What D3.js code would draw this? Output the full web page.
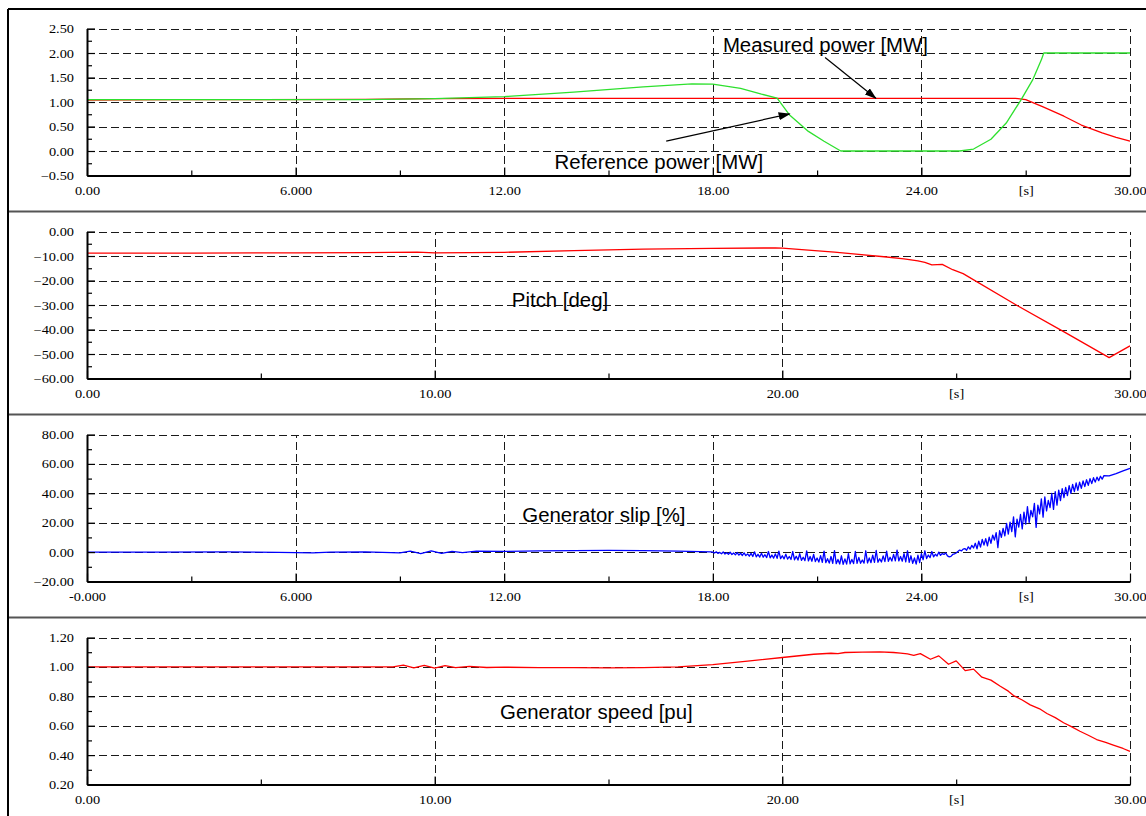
<!DOCTYPE html>
<html>
<head>
<meta charset="utf-8">
<script src="https://cdn.jsdelivr.net/npm/d3@7"></script>
<style>
  body { margin: 0; background: #fff; }
  svg { display: block; }
</style>
</head>
<body>
<div id="chart"></div>
<script>
// ---- data, [time s, value] ----

// measured power [MW] (red)
const measuredPower = [
  [0, 1.04], [2.5, 1.05], [5, 1.05], [8, 1.055], [10, 1.07], [13, 1.075], [20, 1.075],
  [26.7, 1.075], [27.0, 1.05], [27.5, 0.9], [28.1, 0.71], [28.6, 0.53], [29.2, 0.37], [29.6, 0.28], [30, 0.2]
];

// reference power [MW] (green)
const referencePower = [
  [0, 1.05], [8, 1.05], [10, 1.07], [12, 1.11], [14, 1.2], [16, 1.31], [17.4, 1.37], [18, 1.365],
  [18.8, 1.28], [19.4, 1.16], [19.85, 1.08], [20.2, 0.74], [20.75, 0.4], [21.2, 0.2], [21.68, 0],
  [25.1, 0], [25.5, 0.04], [26.0, 0.24], [26.44, 0.57], [26.87, 1.05], [27.2, 1.45], [27.45, 1.86],
  [27.52, 2.0], [30, 2.0]
];

// pitch [deg]
const pitch = [
  [0, -8.8], [3, -8.8], [6, -8.7], [8, -8.6], [9.5, -8.4], [10, -8.7], [12, -8.5], [14, -7.8],
  [16, -7.2], [18, -6.9], [19.8, -6.7], [20, -6.8], [21.5, -8.4], [23.0, -10.4], [23.5, -11.2],
  [23.9, -12.0], [24.1, -12.6], [24.3, -13.6], [24.6, -13.4], [24.9, -15.6], [25.2, -17.2],
  [26.74, -30.1], [28.18, -41.6], [29.4, -51.5], [30, -46.7]
];

// generator slip [%], quiet start
const slipStart = [
  [0, 0], [2, 0], [4, 0.1], [5.5, -0.2], [6.5, -0.5], [7, 0], [8, 0.2], [9, -0.5], [9.3, 0.6],
  [9.6, -1.0], [9.9, 0.8], [10.2, -0.8], [10.5, 0.5], [10.8, -0.3], [11.2, 0.6], [12, 0.5],
  [13, 0.8], [14, 1.0], [15, 1.2], [16, 1.0], [17, 0.6], [17.95, 0.1]
];
// generator slip [%], noisy part sampled every 0.05 s from 18.00 s
const slipNoiseStart = 18.0;
const slipNoiseStep = 0.05;
const slipNoise = [
  0, -0.6, 0.2, -0.9, -0.2, -1.1, 0.1, -1.3, -0.4, -1.5, -0.1, -1.7, -0.6, -1.9, -0.3, -2.1, -0.8, -2.3, -0.5, -2.4,
  -1.2, -2.8, -0.9, -3.0, 0.2, -3.2, -1.5, -3.4, -0.8, -3.5, -1.8, -3.7, 0.4, -3.9, -2.0, -4.1, -1.2, -4.2, 0.6, -4.4,
  -2.5, -4.6, -1.4, -4.8, -3.0, -5.0, 0.4, -5.2, -2.8, -5.4, -1.1, -5.6, -3.5, -5.8, 0.8, -6.0, -3.0, -6.2, -1.6, -6.4,
  -4.0, -6.8, -2.4, -7.0, 0.6, -7.2, -4.5, -7.5, -3.0, -7.7, 1.0, -7.9, -5.0, -8.1, -2.5, -8.3, -4.6, -8.2, -1.0, -8.0,
  -5.0, -7.8, 0.4, -7.7, -3.6, -7.6, -5.4, -7.5, 0.9, -7.4, -4.0, -7.2, -2.0, -7.0, 1.1, -6.9, -4.5, -6.7, -2.6, -6.5,
  0.7, -6.3, -3.5, -6.1, -1.5, -6.0, 1.4, -6.0, -3.0, -6.2, -1.0, -6.6, 0.9, -7.0, -2.5, -7.6, -4.0, -8.2, -2.0, -7.2,
  -1.0, -5.2, 0.9, -4.4, -2.0, -3.8, 0.4, -3.2, -1.5, -2.7, 0.0, -2.2, -1.0, -1.6, -0.6, -2.6, -3.2, -2.9, -1.6, -1.2,
  -0.6, 0.4, 1.4, 0.8, 2.0, 2.4, 1.2, 3.6, 2.0, 4.6, 2.8, 6.0, 2.2, 7.4, 3.4, 8.6, 4.8, 9.2, 4.2, 10.2,
  6.0, 11.6, 8.2, 13.2, 3.0, 14.6, 10.0, 16.2, 11.0, 19.6, 12.2, 20.4, 14.0, 24.0, 10.4, 22.4, 17.0, 25.6, 15.8, 27.2,
  19.0, 31.0, 20.2, 28.4, 24.0, 33.2, 16.8, 32.0, 26.0, 36.2, 23.8, 37.6, 28.0, 35.2, 30.2, 40.0, 29.0, 41.2, 32.0, 42.2,
  35.0, 43.2, 37.0, 44.0, 38.4, 45.2, 40.0, 46.0, 41.2, 47.0, 42.0, 47.6, 43.4, 48.4, 44.6, 49.2, 45.4, 50.0, 46.6, 50.6,
  47.6, 51.0, 48.6, 51.6, 49.6, 52.0
];
// generator slip [%], smooth end
const slipEnd = [[29.4, 51.8], [29.6, 53.4], [29.8, 55.2], [30, 57.0]];

// generator speed [pu]
const speed = [
  [0, 1.0], [8.8, 1.0], [9.1, 1.012], [9.4, 0.993], [9.7, 1.011], [10.0, 0.992], [10.3, 1.008],
  [10.6, 0.995], [11, 1.003], [11.5, 0.996], [12, 0.998], [13, 0.995], [14, 0.995], [15, 0.993],
  [16, 0.995], [17, 1.0], [18, 1.016], [19, 1.039], [20, 1.064], [20.9, 1.086], [21.4, 1.093],
  [21.6, 1.09], [21.8, 1.098], [22.3, 1.1], [22.8, 1.102], [23.2, 1.098], [23.4, 1.094], [23.6, 1.088],
  [23.78, 1.078], [23.97, 1.09], [24.26, 1.052], [24.5, 1.075], [24.78, 1.018], [25.0, 1.041],
  [25.26, 0.975], [25.5, 0.985], [25.74, 0.93], [26.0, 0.91], [26.27, 0.868], [26.5, 0.835],
  [26.65, 0.805], [26.9, 0.775], [27.13, 0.742], [27.4, 0.715], [27.61, 0.683], [27.85, 0.655],
  [28.09, 0.62], [28.3, 0.595], [28.56, 0.562], [28.8, 0.535], [29.04, 0.506], [29.3, 0.487],
  [29.52, 0.468], [29.8, 0.445], [30, 0.425]
];

// ---- ticks and labels ----
const timeDomain = [0, 30];
const xTicks6 = [0, 6, 12, 18, 24, 30];
const xMinor6 = [3, 9, 15, 21, 27];
const xLabels6 = ["0.00", "6.000", "12.00", "18.00", "24.00", "30.00"];
const xLabelsSlip = ["-0.000", "6.000", "12.00", "18.00", "24.00", "30.00"];
const xTicks10 = [0, 10, 20, 30];
const xMinor10 = [5, 15, 25];
const xLabels10 = ["0.00", "10.00", "20.00", "30.00"];
const unitLabel = "[s]";

const powerTicks = [-0.5, 0, 0.5, 1, 1.5, 2, 2.5];
const powerMinor = [-0.25, 0.25, 0.75, 1.25, 1.75, 2.25];
const pitchTicks = [-60, -50, -40, -30, -20, -10, 0];
const pitchMinor = [-55, -45, -35, -25, -15, -5];
const slipTicks = [-20, 0, 20, 40, 60, 80];
const slipMinor = [-10, 10, 30, 50, 70];
const speedTicks = [0.2, 0.4, 0.6, 0.8, 1.0, 1.2];
const speedMinor = [0.3, 0.5, 0.7, 0.9, 1.1];

// ---- layout ----
const W = 1146, H = 816;
const plotLeft = 87, plotRight = 1130, plotH = 147;
const serif = "'Liberation Serif', 'Times New Roman', serif";
const sans = "'Liberation Sans', Arial, sans-serif";
const serifStretch = 1.25;
const sansStretch = 1.02;
const gridColor = "#1a1a1a";

const slip = slipStart
  .concat(slipNoise.map((v, i) => [slipNoiseStart + i * slipNoiseStep, v]))
  .concat(slipEnd);

const panels = [
  {
    top: 28.5, yTicks: powerTicks, yMinor: powerMinor,
    xTicks: xTicks6, xMinor: xMinor6, xLabels: xLabels6, unitAt: 27,
    series: [
      { data: measuredPower, color: "#ff0000" },
      { data: referencePower, color: "#2ee02e" }
    ],
    labels: [
      { text: "Measured power [MW]", t: 18.29, v: 2.02 },
      { text: "Reference power [MW]", t: 13.45, v: -0.372 }
    ],
    arrows: [
      { from: [21.23, 1.91], to: [22.69, 1.075] },
      { from: [16.66, 0.2], to: [20.21, 0.758] }
    ]
  },
  {
    top: 231.5, yTicks: pitchTicks, yMinor: pitchMinor,
    xTicks: xTicks10, xMinor: xMinor10, xLabels: xLabels10, unitAt: 25,
    series: [{ data: pitch, color: "#ff0000" }],
    labels: [{ text: "Pitch [deg]", t: 12.22, v: -30.75 }],
    arrows: []
  },
  {
    top: 434.5, yTicks: slipTicks, yMinor: slipMinor,
    xTicks: xTicks6, xMinor: xMinor6, xLabels: xLabelsSlip, unitAt: 27,
    series: [{ data: slip, color: "#0000ff" }],
    labels: [{ text: "Generator slip [%]", t: 12.52, v: 20.7 }],
    arrows: []
  },
  {
    top: 637.5, yTicks: speedTicks, yMinor: speedMinor,
    xTicks: xTicks10, xMinor: xMinor10, xLabels: xLabels10, unitAt: 25,
    series: [{ data: speed, color: "#ff0000" }],
    labels: [{ text: "Generator speed [pu]", t: 11.88, v: 0.645 }],
    arrows: []
  }
];

const svg = d3.select("#chart").append("svg")
  .attr("width", W)
  .attr("height", H);

svg.append("defs").append("marker")
  .attr("id", "arrow")
  .attr("viewBox", "0 0 12 8")
  .attr("refX", 11)
  .attr("refY", 4)
  .attr("markerWidth", 12)
  .attr("markerHeight", 8)
  .attr("markerUnits", "userSpaceOnUse")
  .attr("orient", "auto")
  .append("path")
  .attr("d", "M0,0L12,4L0,8Z")
  .attr("fill", "#000");

// outer frame and panel separators
[211.5, 414.5, 617.5].forEach(yy => {
  svg.append("line")
    .attr("x1", 8).attr("x2", W).attr("y1", yy).attr("y2", yy)
    .attr("stroke", "#555").attr("stroke-width", 2);
});
svg.append("line").attr("x1", 8).attr("x2", W).attr("y1", 9).attr("y2", 9)
  .attr("stroke", "#000").attr("stroke-width", 2);
svg.append("line").attr("x1", 8).attr("x2", 8).attr("y1", 9).attr("y2", H)
  .attr("stroke", "#000").attr("stroke-width", 2);

panels.forEach(p => {
  const x = d3.scaleLinear().domain(timeDomain).range([plotLeft, plotRight]);
  const y = d3.scaleLinear()
    .domain([p.yTicks[0], p.yTicks[p.yTicks.length - 1]])
    .range([p.top + plotH, p.top]);
  const bottom = p.top + plotH;
  const g = svg.append("g");

  // dashed grid, skipping the axis lines themselves
  g.append("g")
    .attr("transform", `translate(${plotLeft},0)`)
    .call(d3.axisLeft(y).tickValues(p.yTicks.slice(1)).tickSize(-(plotRight - plotLeft)).tickFormat(""))
    .call(a => a.select(".domain").remove())
    .selectAll("line")
    .attr("class", "grid")
    .attr("stroke", gridColor)
    .attr("shape-rendering", "crispEdges")
    .attr("stroke-dasharray", "8,4");

  g.append("g")
    .attr("transform", `translate(0,${bottom})`)
    .call(d3.axisBottom(x).tickValues(p.xTicks.slice(1)).tickSize(-plotH).tickFormat(""))
    .call(a => a.select(".domain").remove())
    .selectAll("line")
    .attr("class", "grid")
    .attr("stroke", gridColor)
    .attr("shape-rendering", "crispEdges")
    .attr("stroke-dasharray", "8,4");

  // series
  const line = d3.line().x(d => x(d[0])).y(d => y(d[1]));
  p.series.forEach(s => {
    g.append("path")
      .datum(s.data)
      .attr("d", line)
      .attr("fill", "none")
      .attr("stroke", s.color)
      .attr("stroke-width", 1.3)
      .attr("stroke-linejoin", "round");
  });

  // axes: solid lines with inward ticks
  const yAxis = g.append("g")
    .attr("transform", `translate(${plotLeft},0)`)
    .call(d3.axisLeft(y).tickValues(p.yTicks).tickSize(-8).tickSizeOuter(0).tickFormat(""));
  g.append("g")
    .attr("transform", `translate(${plotLeft},0)`)
    .call(d3.axisLeft(y).tickValues(p.yMinor).tickSize(-5).tickSizeOuter(0).tickFormat(""))
    .call(a => a.select(".domain").remove());
  const xAxis = g.append("g")
    .attr("transform", `translate(0,${bottom})`)
    .call(d3.axisBottom(x).tickValues(p.xTicks).tickSize(-8).tickSizeOuter(0).tickFormat(""));
  g.append("g")
    .attr("transform", `translate(0,${bottom})`)
    .call(d3.axisBottom(x).tickValues(p.xMinor).tickSize(-5).tickSizeOuter(0).tickFormat(""))
    .call(a => a.select(".domain").remove());
  [yAxis, xAxis].forEach(a => a.select(".domain").attr("stroke", "#000").attr("stroke-width", 2));
  g.selectAll(".tick line:not(.grid)").attr("stroke", "#000").attr("stroke-width", 1.2);

  // tick labels (axis sets its own font, so override after the call)
  g.append("g")
    .attr("transform", `translate(${plotLeft},0)`)
    .call(d3.axisLeft(y).tickValues(p.yTicks).tickSize(0).tickFormat(d3.format(".2f")))
    .attr("font-family", serif)
    .attr("font-size", 11.5)
    .call(a => a.select(".domain").remove())
    .selectAll("text")
    .attr("x", null).attr("dy", null)
    .attr("fill", "#000")
    .attr("transform", `translate(-13,4) scale(${serifStretch},1)`);

  const xLabelPos = p.xTicks.concat([p.unitAt]);
  const xLabelText = p.xLabels.concat([unitLabel]);
  g.append("g")
    .attr("transform", `translate(0,${bottom})`)
    .call(d3.axisBottom(x).tickValues(xLabelPos).tickSize(0).tickFormat((d, i) => xLabelText[i]))
    .attr("font-family", serif)
    .attr("font-size", 11.5)
    .call(a => a.select(".domain").remove())
    .selectAll("text")
    .attr("y", null).attr("dy", null)
    .attr("fill", "#000")
    .attr("transform", `translate(0,19) scale(${serifStretch},1)`);

  // annotations
  p.labels.forEach(l => {
    g.append("text")
      .attr("transform", `translate(${x(l.t)},${y(l.v)}) scale(${sansStretch},1)`)
      .attr("font-family", sans)
      .attr("font-size", 20)
      .attr("fill", "#000")
      .text(l.text);
  });
  p.arrows.forEach(a => {
    g.append("line")
      .attr("x1", x(a.from[0])).attr("y1", y(a.from[1]))
      .attr("x2", x(a.to[0])).attr("y2", y(a.to[1]))
      .attr("stroke", "#000")
      .attr("stroke-width", 1.2)
      .attr("marker-end", "url(#arrow)");
  });
});
</script>
</body>
</html>
